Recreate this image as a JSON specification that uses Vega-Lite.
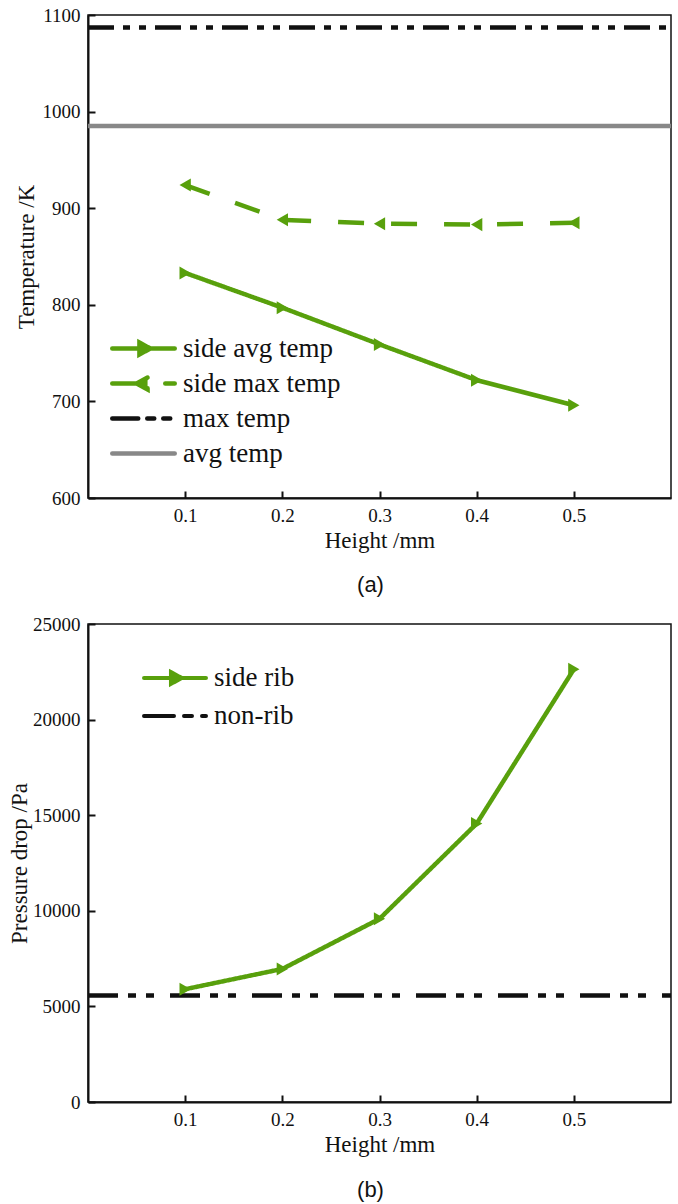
{
  "$schema": "https://vega.github.io/schema/vega-lite/v6.json",
  "padding": {"left": 7, "top": 5, "right": 4, "bottom": 0},
  "spacing": 17,
  "align": "none",
  "resolve": {
    "scale": {"color": "independent", "strokeDash": "independent", "shape": "independent", "x": "independent", "y": "independent"},
    "legend": {"color": "independent"}
  },
  "datasets": {
    "temperature": [
      {"height": 0.1, "temperature": 833, "series": "side avg temp"},
      {"height": 0.2, "temperature": 797, "series": "side avg temp"},
      {"height": 0.3, "temperature": 759, "series": "side avg temp"},
      {"height": 0.4, "temperature": 722, "series": "side avg temp"},
      {"height": 0.5, "temperature": 696, "series": "side avg temp"},
      {"height": 0.1, "temperature": 924, "series": "side max temp"},
      {"height": 0.2, "temperature": 888, "series": "side max temp"},
      {"height": 0.3, "temperature": 884, "series": "side max temp"},
      {"height": 0.4, "temperature": 883, "series": "side max temp"},
      {"height": 0.5, "temperature": 885, "series": "side max temp"},
      {"height": 0.0, "temperature": 1087, "series": "max temp"},
      {"height": 0.6, "temperature": 1087, "series": "max temp"},
      {"height": 0.0, "temperature": 985, "series": "avg temp"},
      {"height": 0.6, "temperature": 985, "series": "avg temp"}
    ],
    "pressure": [
      {"height": 0.1, "pressure": 5900, "series": "side rib"},
      {"height": 0.2, "pressure": 6960, "series": "side rib"},
      {"height": 0.3, "pressure": 9580, "series": "side rib"},
      {"height": 0.4, "pressure": 14560, "series": "side rib"},
      {"height": 0.5, "pressure": 22630, "series": "side rib"},
      {"height": 0.0, "pressure": 5565, "series": "non-rib"},
      {"height": 0.6, "pressure": 5565, "series": "non-rib"}
    ]
  },
  "vconcat": [
    {
      "width": 583,
      "height": 483,
      "title": {"text": "(a)", "orient": "bottom", "anchor": "middle", "font": "Liberation Sans", "fontSize": 22, "fontWeight": "normal", "color": "#111111", "offset": 23, "dx": -9},
      "data": {"name": "temperature"},
      "encoding": {
        "x": {"field": "height", "type": "quantitative", "scale": {"domain": [0, 0.6], "nice": false, "zero": false}, "axis": {"values": [0.1, 0.2, 0.3, 0.4, 0.5], "format": ".1f", "title": "Height /mm"}},
        "y": {"field": "temperature", "type": "quantitative", "scale": {"domain": [600, 1100], "nice": false, "zero": false}, "axis": {"values": [600, 700, 800, 900, 1000, 1100], "format": "d", "title": "Temperature /K"}}
      },
      "layer": [
        {
          "mark": {"type": "line", "strokeWidth": 4.5, "strokeCap": "butt", "clip": true},
          "encoding": {
            "color": {
              "field": "series", "type": "nominal",
              "scale": {"domain": ["side avg temp", "side max temp", "max temp", "avg temp"], "range": ["#58a00c", "#58a00c", "#111111", "#888888"]},
              "legend": {
                "orient": "none", "legendX": 22, "legendY": 316, "title": null, "padding": 0,
                "labelFont": "Liberation Serif", "labelFontSize": 27, "labelColor": "#111111", "labelLimit": 400,
                "symbolSize": 3906, "clipHeight": 35, "rowPadding": 0, "labelOffset": 6, "symbolOffset": 0,
                "encode": {"symbols": {"update": {
                  "shape": {"signal": "datum.value === 'side avg temp' ? 'M-1,0L1,0M-0.13,-0.19L0.22,0L-0.13,0.19Z' : datum.value === 'side max temp' ? 'M-1,0L1,0M0.13,-0.19L-0.22,0L0.13,0.19Z' : 'M-1,0L1,0'"},
                  "size": {"value": 3906},
                  "fill": {"signal": "datum.value === 'side avg temp' || datum.value === 'side max temp' ? '#58a00c' : 'transparent'"},
                  "fillOpacity": {"value": 1},
                  "strokeDash": {"signal": "datum.value === 'side max temp' ? [22, 18] : datum.value === 'max temp' ? [24, 14, 6, 16, 7, 100] : [1, 0]"},
                  "strokeWidth": {"value": 4.5},
                  "strokeCap": {"value": "round"}
                }}}
              }
            },
            "strokeDash": {
              "field": "series", "type": "nominal",
              "scale": {"domain": ["side avg temp", "side max temp", "max temp", "avg temp"], "range": [[1, 0], [26, 27], [26, 9, 7, 9, 7, 9], [1, 0]]},
              "legend": null
            }
          }
        },
        {
          "transform": [{"filter": "datum.series === 'side avg temp' || datum.series === 'side max temp'"}],
          "mark": {"type": "point", "filled": true, "opacity": 1, "size": 170, "color": "#58a00c"},
          "encoding": {
            "shape": {"field": "series", "type": "nominal", "scale": {"domain": ["side avg temp", "side max temp"], "range": ["triangle-right", "triangle-left"]}, "legend": null}
          }
        }
      ]
    },
    {
      "width": 583,
      "height": 478,
      "title": {"text": "(b)", "orient": "bottom", "anchor": "middle", "font": "Liberation Sans", "fontSize": 22, "fontWeight": "normal", "color": "#111111", "offset": 24, "dx": -9},
      "data": {"name": "pressure"},
      "encoding": {
        "x": {"field": "height", "type": "quantitative", "scale": {"domain": [0, 0.6], "nice": false, "zero": false}, "axis": {"values": [0.1, 0.2, 0.3, 0.4, 0.5], "format": ".1f", "title": "Height /mm"}},
        "y": {"field": "pressure", "type": "quantitative", "scale": {"domain": [0, 25000], "nice": false, "zero": true}, "axis": {"values": [0, 5000, 10000, 15000, 20000, 25000], "format": "d", "title": "Pressure drop /Pa", "titlePadding": 1}}
      },
      "layer": [
        {
          "mark": {"type": "line", "strokeWidth": 4.5, "strokeCap": "butt", "clip": true},
          "encoding": {
            "color": {
              "field": "series", "type": "nominal",
              "scale": {"domain": ["side rib", "non-rib"], "range": ["#58a00c", "#111111"]},
              "legend": {
                "orient": "none", "legendX": 54, "legendY": 35, "title": null, "padding": 0,
                "labelFont": "Liberation Serif", "labelFontSize": 27, "labelColor": "#111111", "labelLimit": 400,
                "symbolSize": 3844, "clipHeight": 38, "rowPadding": 0, "labelOffset": 6, "symbolOffset": 0,
                "encode": {"symbols": {"update": {
                  "shape": {"signal": "datum.value === 'side rib' ? 'M-1,0L1,0M-0.13,-0.19L0.22,0L-0.13,0.19Z' : 'M-1,0L1,0'"},
                  "size": {"value": 3844},
                  "fill": {"signal": "datum.value === 'side rib' ? '#58a00c' : 'transparent'"},
                  "fillOpacity": {"value": 1},
                  "strokeDash": {"signal": "datum.value === 'non-rib' ? [12, 10, 4, 9, 4, 10, 100] : [1, 0]"},
                  "strokeWidth": {"value": 4},
                  "strokeCap": {"value": "round"}
                }}}
              }
            },
            "strokeDash": {
              "field": "series", "type": "nominal",
              "scale": {"domain": ["side rib", "non-rib"], "range": [[1, 0], [30, 10, 8, 10, 8, 16]]},
              "legend": null
            }
          }
        },
        {
          "transform": [{"filter": "datum.series === 'side rib'"}],
          "mark": {"type": "point", "filled": true, "opacity": 1, "size": 170, "color": "#58a00c"},
          "encoding": {
            "shape": {"field": "series", "type": "nominal", "scale": {"domain": ["side rib"], "range": ["triangle-right"]}, "legend": null}
          }
        }
      ]
    }
  ],
  "config": {
    "view": {"stroke": "#111111", "strokeWidth": 1.5},
    "axis": {
      "labelFont": "Liberation Serif", "titleFont": "Liberation Serif",
      "labelFontSize": 19, "titleFontSize": 23, "titleFontWeight": "normal",
      "labelColor": "#111111", "titleColor": "#111111",
      "domainColor": "#111111", "domainWidth": 2,
      "tickColor": "#111111", "tickWidth": 2, "tickSize": -7,
      "labelPadding": 15, "titlePadding": 4, "grid": false
    }
  }
}
